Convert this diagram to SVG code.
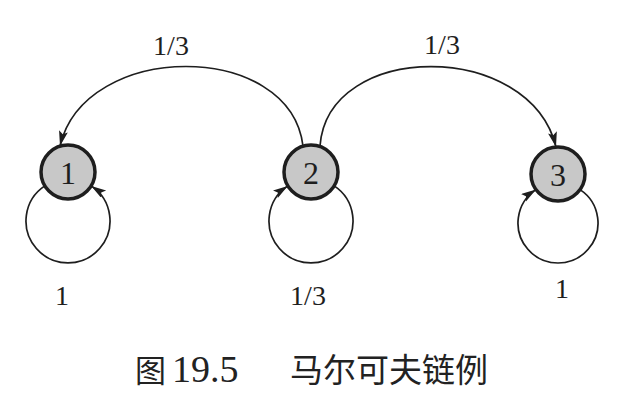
<svg xmlns="http://www.w3.org/2000/svg" width="618" height="410" viewBox="0 0 618 410">
<style>
.node{fill:#c8c8c8;stroke:#1e1e1e;stroke-width:3.5}
.edge{fill:none;stroke:#1e1e1e;stroke-width:1.7}
.lbl{font-family:"Liberation Serif","Times New Roman",serif;fill:#1e1e1e;text-anchor:middle}
.nl{font-size:32px}
.el{font-size:28px}
.cap{font-family:"Liberation Serif","Noto Sans CJK SC",serif;fill:#222}
</style>
<defs>
<marker id="ah" markerUnits="userSpaceOnUse" markerWidth="18" markerHeight="12" refX="15" refY="4.5" orient="auto">
<path d="M0,0 L15,4.5 L0,9 L3,4.5 z" fill="#1e1e1e"/>
</marker>
</defs>
<rect width="618" height="410" fill="#ffffff"/>
<g id="connectors">
<path class="edge" d="M303,146 C290,40 85,40 60,146" marker-end="url(#ah)"/>
<path class="edge" d="M320,146 C328,40 530,40 556,147" marker-end="url(#ah)"/>
<path class="edge" d="M44.8,185.9 A42,42 0 1 0 91.2,185.9" marker-end="url(#ah)"/>
<path class="edge" d="M334.2,185.9 A42,42 0 1 1 287.8,185.9" marker-end="url(#ah)"/>
<path class="edge" d="M580,189.6 A40,40 0 1 1 536,189.6" marker-end="url(#ah)"/>
<text class="lbl el" x="171" y="55">1/3</text>
<text class="lbl el" x="442" y="54">1/3</text>
<text class="lbl el" x="62" y="305">1</text>
<text class="lbl el" x="308" y="305">1/3</text>
<text class="lbl el" x="562" y="298">1</text>
</g>
<g id="node1">
<circle class="node" cx="68" cy="172" r="27"/>
<text class="lbl nl" x="68" y="184">1</text>
</g>
<g id="node2">
<circle class="node" cx="311" cy="172" r="27"/>
<text class="lbl nl" x="311" y="184">2</text>
</g>
<g id="node3">
<circle class="node" cx="558" cy="174" r="27"/>
<text class="lbl nl" x="558" y="186">3</text>
</g>
<g id="caption">
<text class="cap" x="135" y="382" font-size="31">图</text>
<text class="cap" x="172" y="382" font-size="38">19.5</text>
<text class="cap" x="290" y="382" font-size="33">马尔可夫链例</text>
</g>
</svg>
